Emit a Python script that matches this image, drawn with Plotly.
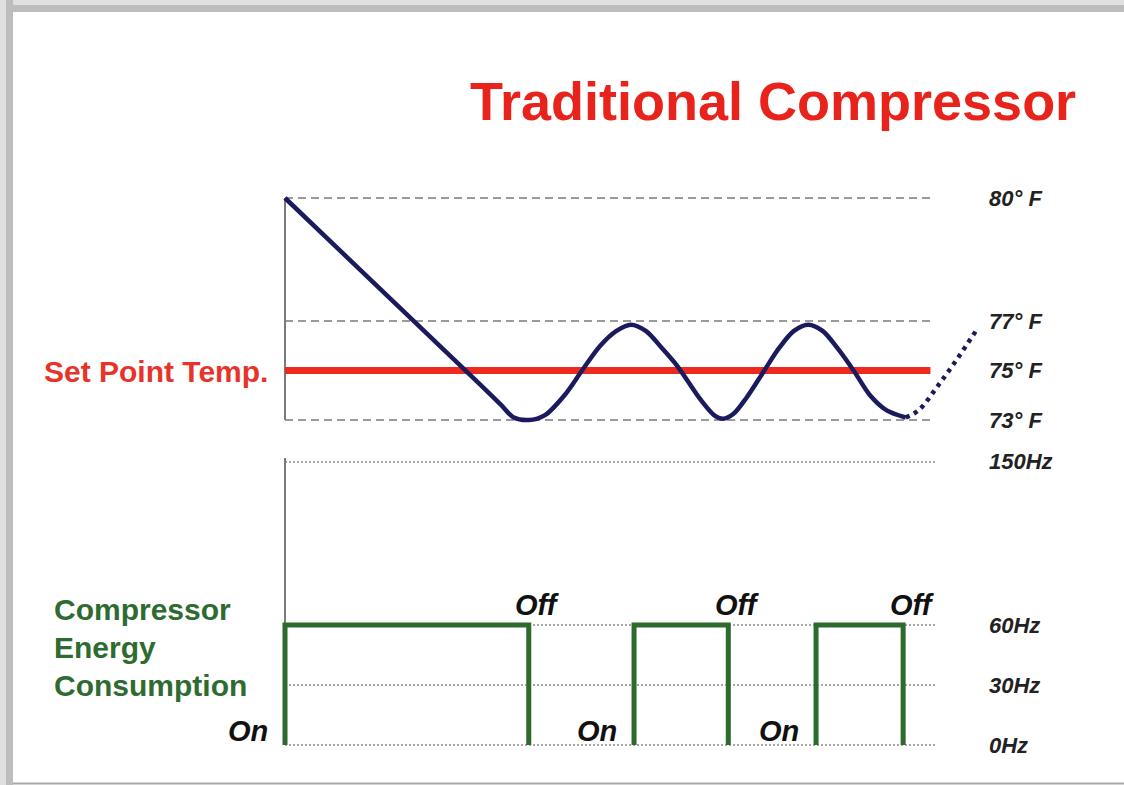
import plotly.graph_objects as go

# ---------------- data ----------------
# time in arbitrary units (0 = start of cooling)
temp_t = [0, 30.0, 33.2, 35.2, 37.5, 40.0, 43.0, 45.7, 48.5, 51.0, 53.2, 55.5, 58.0, 60.3,
          64.0, 66.0, 67.4, 69.0, 71.0, 73.5, 76.0, 78.3, 80.5, 82.7, 85.0, 87.6,
          90.0, 92.5, 95.5]
temp_f = [80, 74.44, 73.62, 73.1, 73.0, 73.2, 74.0, 75.0, 76.0, 76.6, 76.85, 76.6, 75.9, 75.2,
          73.8, 73.2, 73.05, 73.25, 73.9, 74.9, 75.9, 76.6, 76.85, 76.6, 75.9, 74.95,
          74.0, 73.4, 73.1]
cont_t = [95.5, 97.5, 100.5, 103.5, 106.3]
cont_f = [73.1, 73.4, 74.4, 75.5, 76.6]

set_point = 75
temp_levels = [80, 77, 75, 73]
temp_labels = ["80° F", "77° F", "75° F", "73° F"]
temp_grid = [80, 77, 73]

on_times = [0, 53.7, 81.7]
off_times = [37.5, 68.2, 95.1]
run_hz = 60
hz_levels = [150, 60, 30, 0]
hz_labels = ["150Hz", "60Hz", "30Hz", "0Hz"]
t_end = 100
t_setpoint_end = 99.3

# ---------------- scales (broken axes as in the original schematic) ----------------
def ft(T):
    return T if T <= 77 else 77 + (T - 77) * 1.6566

def fh(h):
    return h if h <= 60 else 60 + (h - 60) * 0.9056

W, H = 1124, 785
def px(x):
    return x / W
def py(y):
    return 1 - y / H

FONT = "Arial, Liberation Sans, sans-serif"
NAVY = "#1b1a5c"
RED = "#ee2a1f"
GREEN = "#2c6a2e"
GRID = "#9a9a9a"

fig = go.Figure()

# temperature grid lines
for lv in temp_grid:
    fig.add_trace(go.Scatter(x=[0, t_end], y=[ft(lv)] * 2, mode="lines",
                             line=dict(color=GRID, width=2, dash="8px,5px"),
                             hoverinfo="skip", yaxis="y"))
# Hz grid lines
for lv in hz_levels:
    fig.add_trace(go.Scatter(x=[0, t_end], y=[fh(lv)] * 2, mode="lines",
                             line=dict(color="#8a8a8a", width=1.6, dash="2px,2px"),
                             hoverinfo="skip", yaxis="y2"))
# vertical axis lines
fig.add_trace(go.Scatter(x=[0, 0], y=[ft(73), ft(80)], mode="lines",
                         line=dict(color="#7a7a7a", width=2), hoverinfo="skip", yaxis="y"))
fig.add_trace(go.Scatter(x=[0, 0], y=[fh(0), fh(150) + 2], mode="lines",
                         line=dict(color="#7a7a7a", width=2), hoverinfo="skip", yaxis="y2"))

# set point
fig.add_trace(go.Scatter(x=[0, t_setpoint_end], y=[set_point] * 2, mode="lines",
                         line=dict(color=RED, width=7), hoverinfo="skip", yaxis="y"))
# temperature curve
fig.add_trace(go.Scatter(x=temp_t, y=[ft(v) for v in temp_f], mode="lines",
                         line=dict(color=NAVY, width=4.5, shape="spline", smoothing=0.9),
                         hoverinfo="skip", yaxis="y"))
fig.add_trace(go.Scatter(x=cont_t, y=[ft(v) for v in cont_f], mode="lines",
                         line=dict(color=NAVY, width=4.5, dash="4px,5px", shape="spline"),
                         hoverinfo="skip", yaxis="y"))

# compressor pulses
for a, b in zip(on_times, off_times):
    fig.add_trace(go.Scatter(x=[a, a, b, b], y=[0, fh(run_hz), fh(run_hz), 0], mode="lines",
                             line=dict(color=GREEN, width=5), hoverinfo="skip", yaxis="y2"))

ann = []
# temp labels
for lv, lab in zip(temp_levels, temp_labels):
    ann.append(dict(x=108, y=ft(lv), xref="x", yref="y", text=f"<b><i>{lab}</i></b>",
                    showarrow=False, xanchor="left", yanchor="middle",
                    font=dict(family=FONT, size=22, color="#222")))
for lv, lab in zip(hz_levels, hz_labels):
    ann.append(dict(x=108, y=fh(lv), xref="x", yref="y2", text=f"<b><i>{lab}</i></b>",
                    showarrow=False, xanchor="left", yanchor="middle",
                    font=dict(family=FONT, size=22, color="#222")))
# on/off labels
for a in on_times:
    ann.append(dict(x=px(6.5 * a + 285 - 37), y=py(731), xref="paper", yref="paper",
                    text="<b><i>On</i></b>", showarrow=False, xanchor="center", yanchor="middle",
                    font=dict(family=FONT, size=29, color="#111")))
for b in off_times:
    ann.append(dict(x=px(6.5 * b + 285 + 9), y=py(605), xref="paper", yref="paper",
                    text="<b><i>Off</i></b>", showarrow=False, xanchor="center", yanchor="middle",
                    font=dict(family=FONT, size=29, color="#111")))
# title and labels
ann.append(dict(x=px(773), y=py(101), xref="paper", yref="paper",
                text="<b>Traditional Compressor</b>", showarrow=False,
                xanchor="center", yanchor="middle", font=dict(family=FONT, size=54, color="#e8231c")))
ann.append(dict(x=px(42), y=py(371), xref="paper", yref="paper",
                text="<b>Set Point Temp.</b>", showarrow=False,
                xanchor="left", yanchor="middle", font=dict(family=FONT, size=30, color="#e8332a")))
for txt, yy in zip(["Compressor", "Energy", "Consumption"], [609, 647, 685]):
    ann.append(dict(x=px(52), y=py(yy), xref="paper", yref="paper",
                    text=f"<b>{txt}</b>", showarrow=False,
                    xanchor="left", yanchor="middle", font=dict(family=FONT, size=30, color="#2e6b30")))

shapes = [
    dict(type="rect", xref="paper", yref="paper", x0=0, x1=1, y0=py(12), y1=1,
         fillcolor="#bdbdbd", line_width=0, layer="above"),
    dict(type="rect", xref="paper", yref="paper", x0=0, x1=1, y0=py(5), y1=1,
         fillcolor="#e0e0e0", line_width=0, layer="above"),
    dict(type="rect", xref="paper", yref="paper", x0=0, x1=px(13), y0=py(785), y1=1,
         fillcolor="#bdbdbd", line_width=0, layer="above"),
    dict(type="rect", xref="paper", yref="paper", x0=0, x1=px(6), y0=py(785), y1=1,
         fillcolor="#e0e0e0", line_width=0, layer="above"),
    dict(type="line", xref="paper", yref="paper", x0=px(13), x1=1, y0=py(783.5), y1=py(783.5),
         line=dict(color="#a8a8a8", width=2), layer="above"),
]

# x: pixel = 6.5*t + 285 ; y: pixel = 420 - 24.75*(v-73) ; y2: pixel = 745 - 2*v
fig.update_layout(
    width=W, height=H, margin=dict(l=0, r=0, t=0, b=0),
    paper_bgcolor="white", plot_bgcolor="white", showlegend=False,
    xaxis=dict(range=[-285 / 6.5, (W - 285) / 6.5], visible=False, domain=[0, 1], fixedrange=True),
    yaxis=dict(range=[73 - (H - 420) / 24.75, 73 + 420 / 24.75], visible=False, domain=[0, 1]),
    yaxis2=dict(range=[-(H - 745) / 2, 745 / 2], visible=False, overlaying="y", anchor="x"),
    annotations=ann, shapes=shapes,
)

fig.write_html("out.html", config={"displayModeBar": False},
               post_script="document.body.style.margin='0';document.body.style.overflow='hidden';")
